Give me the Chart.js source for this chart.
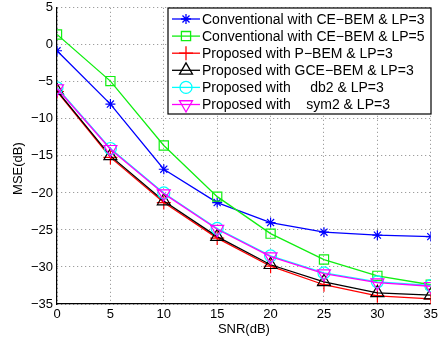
<!DOCTYPE html>
<html lang="en">
  <head>
    <meta charset="UTF-8" />
    <title>MSE vs SNR</title>
    <script src="https://cdn.jsdelivr.net/npm/chart.js"></script>
    <style>
      html, body { margin: 0; padding: 0; background: #fff; overflow: hidden; }
      #wrap { width: 441px; height: 340px; overflow: hidden; }
      #chart { display: block; margin-top: -4px; }
    </style>
  </head>
  <body>
    <div id="wrap"><canvas id="chart" width="441" height="344"></canvas></div>
    <script>
      const snr = [0, 5, 10, 15, 20, 25, 30, 35];
      const ceBemLp3 = [-0.8, -8.0, -16.8, -21.3, -24.0, -25.3, -25.7, -25.9];
      const ceBemLp5 = [1.4, -4.9, -13.6, -20.5, -25.5, -29.0, -31.2, -32.4];
      const pBem = [-6.3, -15.2, -21.3, -26.1, -29.9, -32.4, -33.9, -34.3];
      const gceBem = [-6.2, -15.0, -21.1, -25.9, -29.7, -32.0, -33.5, -33.8];
      const db2 = [-5.8, -14.0, -20.0, -24.8, -28.5, -30.8, -32.0, -32.5];
      const sym2 = [-5.9, -14.1, -20.1, -24.9, -28.6, -30.9, -32.1, -32.6];

      const labels = [
        "Conventional with CE\u2212BEM & LP=3",
        "Conventional with CE\u2212BEM & LP=5",
        "Proposed with P\u2212BEM & LP=3",
        "Proposed with GCE\u2212BEM & LP=3",
        "Proposed with     db2 & LP=3",
        "Proposed with    sym2 & LP=3",
      ];
      const series = [ceBemLp3, ceBemLp5, pBem, gceBem, db2, sym2];
      const colors = ["#0000ff", "#11ee11", "#ff0000", "#000000", "#00ffff", "#ff00ff"];
      const styles = ["star", "rect", "cross", "triangle", "circle", "triangle"];
      const radii = [5, 6.5, 7, 7.5, 6, 7.5];
      const rotations = [0, 0, 0, 0, 0, 180];

      const font = "Liberation Sans, Arial, Helvetica, sans-serif";

      const datasets = series.map(function (vals, i) {
        return {
          label: labels[i],
          data: vals.map(function (v, j) { return { x: snr[j], y: v }; }),
          borderColor: colors[i],
          backgroundColor: "rgba(0,0,0,0)",
          borderWidth: 1.3,
          pointStyle: styles[i],
          pointRadius: radii[i],
          pointRotation: rotations[i],
          pointBorderColor: colors[i],
          pointBackgroundColor: "rgba(0,0,0,0)",
          pointBorderWidth: 1.2,
          tension: 0,
          order: 6 - i,
        };
      });

      // legend drawn inside the plot like matlab does
      // (canvas is shifted up 4px, so add 4 to y)
      const boxLegend = {
        id: "boxLegend",
        afterDraw(chart) {
          const ctx = chart.ctx;
          const x0 = 168, y0 = 12, w = 263, h = 106;
          ctx.save();
          ctx.fillStyle = "#fff";
          ctx.fillRect(x0, y0, w, h);
          ctx.strokeStyle = "#000";
          ctx.lineWidth = 1.2;
          ctx.strokeRect(x0, y0, w, h);
          ctx.font = "14px " + font;
          ctx.textBaseline = "middle";
          for (let i = 0; i < labels.length; i++) {
            const cy = y0 + 11 + i * 17.1;
            ctx.strokeStyle = colors[i];
            ctx.fillStyle = "rgba(0,0,0,0)";
            ctx.lineWidth = 1.3;
            ctx.beginPath();
            ctx.moveTo(172, cy);
            ctx.lineTo(200, cy);
            ctx.stroke();
            Chart.helpers.drawPoint(ctx, {
              pointStyle: styles[i],
              rotation: rotations[i],
              radius: radii[i],
              borderWidth: 1.2,
            }, 186, cy);
            ctx.fillStyle = "#000";
            ctx.fillText(labels[i], 202, cy + 1);
          }
          ctx.restore();
        },
      };

      const minus = function (value) {
        return String(value).replace("-", "\u2212");
      };

      new Chart(document.getElementById("chart"), {
        type: "line",
        data: { datasets: datasets },
        options: {
          responsive: false,
          animation: false,
          layout: { padding: { left: 0, right: 6, top: 0, bottom: 0 } },
          plugins: { legend: { display: false }, tooltip: { enabled: false } },
          scales: {
            x: {
              type: "linear",
              min: 0,
              max: 35,
              ticks: { stepSize: 5, color: "#000", font: { family: font, size: 13 }, padding: 3, callback: minus },
              grid: { color: "#888", lineWidth: 1, drawTicks: false },
              border: { color: "#000", width: 1.2, dash: [1, 3] },
              title: { display: true, text: "SNR(dB)", color: "#000", font: { family: font, size: 13 }, padding: { top: 0, bottom: 3 } },
              afterFit(scale) {
                scale.height = 36;
              },
            },
            y: {
              min: -35,
              max: 5,
              ticks: { stepSize: 5, color: "#000", font: { family: font, size: 13 }, padding: 4, callback: minus },
              grid: { color: "#888", lineWidth: 1, drawTicks: false },
              border: { color: "#000", width: 1.2, dash: [1, 3] },
              // trailing spaces push the rotated label a bit lower, as in the original
              title: { display: true, text: "MSE(dB)       ", color: "#000", font: { family: font, size: 13 }, padding: { top: 11, bottom: 0 } },
              afterFit(scale) {
                scale.width = 57;
              },
            },
          },
        },
        plugins: [boxLegend],
      });
    </script>
  </body>
</html>
